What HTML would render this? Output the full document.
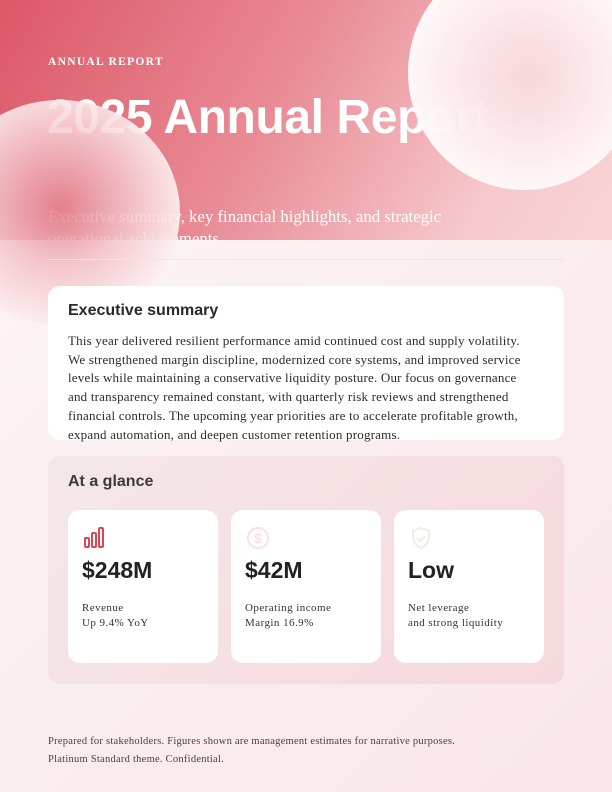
<!DOCTYPE html>
<html><head><meta charset="utf-8"><style>
*{margin:0;padding:0;box-sizing:border-box}
html,body{width:612px;height:792px;overflow:hidden}
body{position:relative;background:linear-gradient(135deg,#fbf3f3 0%,#f9e6e8 100%);font-family:"Liberation Serif",serif}
#wrap{position:absolute;left:0;top:0;width:612px;height:792px;overflow:hidden}
#hdr{position:absolute;left:0;top:0;width:612px;height:240px;background:linear-gradient(120deg,#dc5766 0%,#e98c96 45%,#f6c9cc 80%,#f8d4d6 100%)}
.circ{position:absolute;border-radius:50%;z-index:3}
#overlay{position:absolute;left:0;top:240px;width:612px;height:552px;background:linear-gradient(135deg,rgba(252,244,244,.9),rgba(249,230,232,.9));z-index:2}
.t{position:absolute;z-index:4}
.sans{font-family:"Liberation Sans",sans-serif}
.card{position:absolute;background:#fff;border-radius:12px;z-index:4}
.lbl{font-size:11px;line-height:15px;letter-spacing:.45px;color:#333}
</style></head><body><div id="wrap">
<div id="hdr"></div>
<div class="t" style="left:48px;top:56px;color:#fff;font-size:11.5px;font-weight:bold;letter-spacing:1.3px;z-index:1">ANNUAL REPORT</div>
<div class="t sans" style="left:47px;top:90px;color:#fff;font-size:48px;font-weight:bold;z-index:1;letter-spacing:-0.4px">2025 Annual Report</div>
<div class="t" style="left:48px;top:206px;color:#fff;font-size:16.8px;line-height:22px;width:450px;z-index:1">Executive summary, key financial highlights, and strategic operational achievements</div>
<div id="overlay"></div>
<div class="circ" style="left:408px;top:-45px;width:232px;height:235px;background:radial-gradient(circle at 52% 52%,rgba(248,215,219,.95) 0%,rgba(252,236,238,.97) 40%,#fff 80%);opacity:.97"></div>
<div class="circ" style="left:-60px;top:100px;width:240px;height:225px;background:radial-gradient(circle at 50% 48%,rgba(228,130,142,.95) 0%,rgba(242,190,197,.9) 35%,#fdf2f3 75%,#fff 100%);opacity:.93"></div>
<div class="t" style="left:48px;top:259px;width:516px;height:1px;background:#efe3e4"></div>
<div class="card" style="left:48px;top:286px;width:516px;height:154px"></div>
<div class="t sans" style="left:68px;top:302px;font-size:16px;font-weight:bold;color:#2a2a2a">Executive summary</div>
<div class="t" style="left:68px;top:332px;width:474px;font-size:13px;letter-spacing:.2px;line-height:18.7px;color:#2b2b2b">This year delivered resilient performance amid continued cost and supply volatility.<br>We strengthened margin discipline, modernized core systems, and improved service<br>levels while maintaining a conservative liquidity posture. Our focus on governance<br>and transparency remained constant, with quarterly risk reviews and strengthened<br>financial controls. The upcoming year priorities are to accelerate profitable growth,<br>expand automation, and deepen customer retention programs.</div>
<div class="t" style="left:48px;top:456px;width:516px;height:228px;border-radius:12px;background:linear-gradient(135deg,rgba(240,225,226,.6),rgba(245,210,215,.7))"></div>
<div class="t sans" style="left:68px;top:473px;font-size:16px;font-weight:bold;color:#3a3a3a">At a glance</div>

<div class="card" style="left:68px;top:510px;width:150px;height:153px">
<svg style="position:absolute;left:15px;top:16px" width="24" height="24" viewBox="0 0 24 24" fill="none" stroke="#d94656" stroke-width="2"><rect x="2" y="12" width="4" height="9" rx="1"/><rect x="9" y="7" width="4" height="14" rx="1"/><rect x="16" y="2" width="4" height="19" rx="1"/></svg>
<div class="t sans" style="left:14px;top:47px;font-size:23px;font-weight:bold;color:#222">$248M</div>
<div class="t lbl" style="left:14px;top:91px">Revenue<br>Up 9.4% YoY</div>
</div>
<div class="card" style="left:231px;top:510px;width:150px;height:153px">
<svg style="position:absolute;left:15px;top:16px" width="24" height="24" viewBox="0 0 24 24" fill="none" stroke="#fbe0e2" stroke-width="2"><circle cx="12" cy="12" r="10"/><text x="12" y="17" font-size="13" text-anchor="middle" fill="#fbd8db" stroke="none" font-family="Liberation Sans">$</text></svg>
<div class="t sans" style="left:14px;top:47px;font-size:23px;font-weight:bold;color:#222">$42M</div>
<div class="t lbl" style="left:14px;top:91px">Operating income<br>Margin 16.9%</div>
</div>
<div class="card" style="left:394px;top:510px;width:150px;height:153px">
<svg style="position:absolute;left:15px;top:16px" width="24" height="24" viewBox="0 0 24 24" fill="none" stroke="#f5eaeb" stroke-width="2"><path d="M12 2l8 3v6c0 5-3.5 9-8 11-4.5-2-8-6-8-11V5z"/><path d="M8 12l3 3 5-5"/></svg>
<div class="t sans" style="left:14px;top:47px;font-size:23px;font-weight:bold;color:#222">Low</div>
<div class="t lbl" style="left:14px;top:91px">Net leverage<br>and strong liquidity</div>
</div>

<div class="t" style="left:48px;top:733px;font-size:10.5px;letter-spacing:.25px;line-height:18px;color:#444">Prepared for stakeholders. Figures shown are management estimates for narrative purposes.<br>Platinum Standard theme. Confidential.</div>
</div></body></html>
